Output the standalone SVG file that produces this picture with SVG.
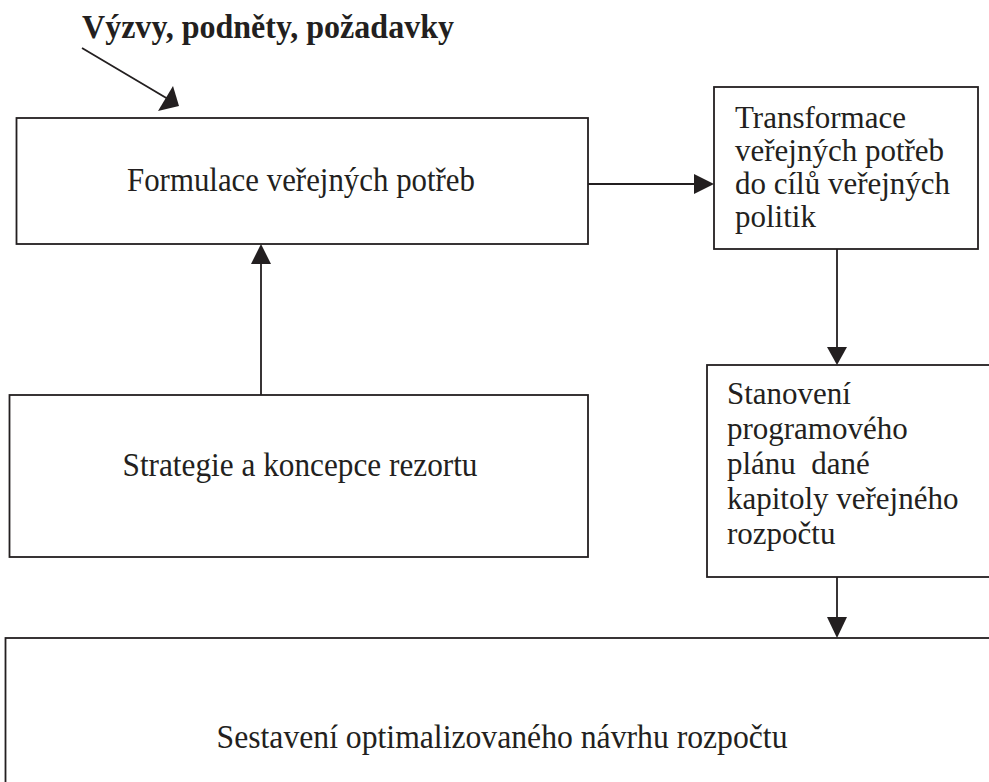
<svg xmlns="http://www.w3.org/2000/svg" width="989" height="782" viewBox="0 0 989 782">
<style>
.box{fill:#fff;stroke:#231f20;stroke-width:1.8}
.ln{stroke:#231f20;stroke-width:1.8;fill:none}
.hd{fill:#231f20;stroke:none}
.t{font-family:"Liberation Serif","Times New Roman",serif;font-size:31px;fill:#231f20}
.b{font-weight:bold}
.c{text-anchor:middle}
</style>
<rect width="989" height="782" fill="#fff"/>
<g id="title">
<text class="t b" transform="translate(82,38) scale(1,1.1)" textLength="372" lengthAdjust="spacingAndGlyphs">Výzvy, podněty, požadavky</text>
</g>
<g id="formulace">
<rect class="box" x="16.5" y="118" width="571.5" height="126"/>
<text class="t c" transform="translate(301,191) scale(1,1.1)" textLength="348" lengthAdjust="spacingAndGlyphs">Formulace veřejných potřeb</text>
</g>
<g id="transformace">
<rect class="box" x="714" y="87" width="264" height="162"/>
<text class="t" transform="translate(735,128) scale(1,1.04)">Transformace</text>
<text class="t" transform="translate(735,161) scale(1,1.04)">veřejných potřeb</text>
<text class="t" transform="translate(735,194) scale(1,1.04)">do cílů veřejných</text>
<text class="t" transform="translate(735,227) scale(1,1.04)">politik</text>
</g>
<g id="strategie">
<rect class="box" x="9.5" y="395" width="578.5" height="162"/>
<text class="t c" transform="translate(300,476) scale(1,1.1)" textLength="355" lengthAdjust="spacingAndGlyphs">Strategie a koncepce rezortu</text>
</g>
<g id="stanoveni">
<rect class="box" x="707" y="365" width="300" height="212"/>
<text class="t" transform="translate(727,404) scale(1,1.04)">Stanovení</text>
<text class="t" transform="translate(727,439) scale(1,1.04)">programového</text>
<text class="t" transform="translate(727,474) scale(1,1.04)" xml:space="preserve">plánu  dané</text>
<text class="t" transform="translate(727,509) scale(1,1.04)">kapitoly veřejného</text>
<text class="t" transform="translate(727,544) scale(1,1.04)">rozpočtu</text>
</g>
<g id="sestaveni">
<rect class="box" x="5.5" y="638" width="1000" height="160"/>
<text class="t c" transform="translate(502,748) scale(1,1.1)" textLength="571" lengthAdjust="spacingAndGlyphs">Sestavení optimalizovaného návrhu rozpočtu</text>
</g>
<g id="connectors">
<line class="ln" x1="82" y1="48" x2="168" y2="99"/>
<polygon class="hd" points="173,86 179,106 158,111"/>
<line class="ln" x1="588" y1="184" x2="696" y2="184"/>
<polygon class="hd" points="694,174 714,184 694,194"/>
<line class="ln" x1="261" y1="395" x2="261" y2="262"/>
<polygon class="hd" points="251,264 261,244 271,264"/>
<line class="ln" x1="837" y1="249" x2="837" y2="349"/>
<polygon class="hd" points="827,347 837,365 847,347"/>
<line class="ln" x1="837" y1="577" x2="837" y2="619"/>
<polygon class="hd" points="827,617 837,638 847,617"/>
</g>
</svg>
